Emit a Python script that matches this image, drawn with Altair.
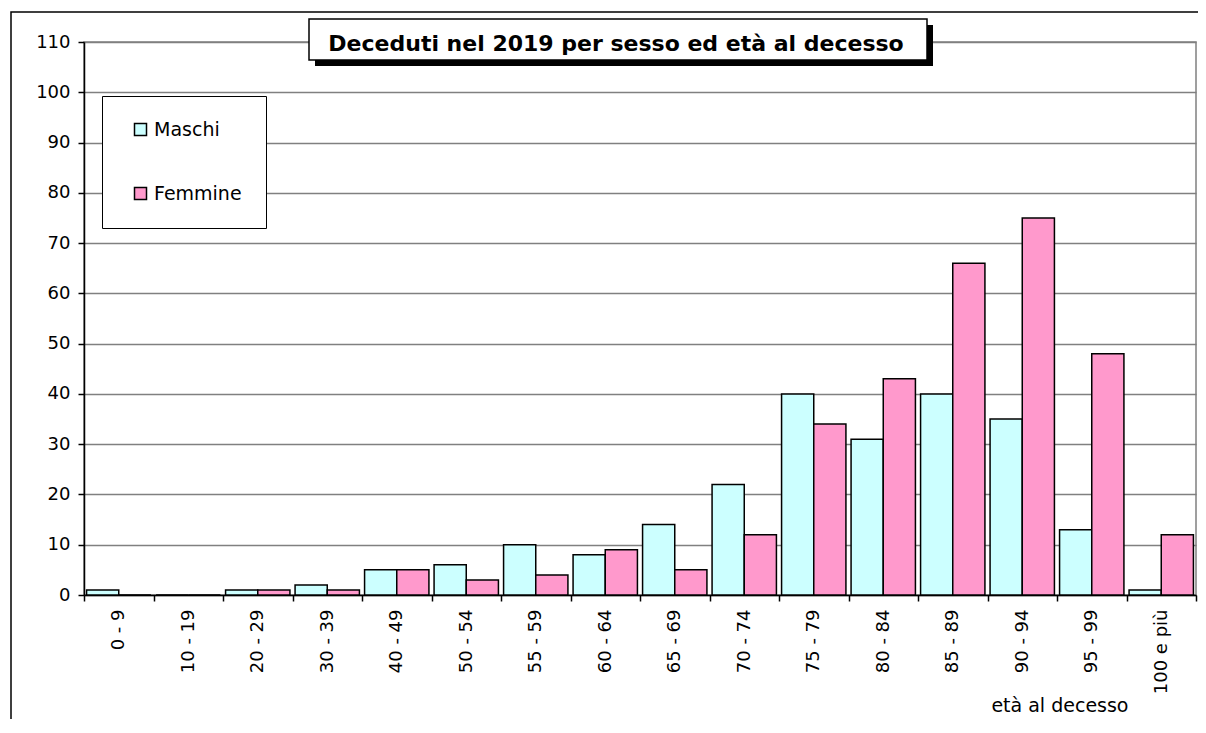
import altair as alt
import pandas as pd

categories = ["0 - 9", "10 - 19", "20 - 29", "30 - 39", "40 - 49", "50 - 54",
              "55 - 59", "60 - 64", "65 - 69", "70 - 74", "75 - 79", "80 - 84",
              "85 - 89", "90 - 94", "95 - 99", "100 e più"]
maschi = [1, 0, 1, 2, 5, 6, 10, 8, 14, 22, 40, 31, 40, 35, 13, 1]
femmine = [0, 0, 1, 1, 5, 3, 4, 9, 5, 12, 34, 43, 66, 75, 48, 12]
series = ["Maschi", "Femmine"]
colors = ["#CCFFFF", "#FF99CC"]
y_ticks = list(range(0, 111, 10))
title_text = "Deceduti nel 2019 per sesso ed età al decesso"
x_title = "età al decesso"

rows = []
for c, m, f in zip(categories, maschi, femmine):
    rows.append({"eta": c, "sesso": "Maschi", "valore": m})
    rows.append({"eta": c, "sesso": "Femmine", "valore": f})
df = pd.DataFrame(rows)

FONT = "DejaVu Sans"

bars = alt.Chart(df).mark_bar(stroke="black", strokeWidth=1.5, opacity=1).encode(
    x=alt.X("eta:N", sort=categories,
            scale=alt.Scale(paddingInner=0, paddingOuter=0),
            axis=alt.Axis(title=x_title, tickBand="extent", tickSize=6, tickWidth=1.5,
                          tickColor="black", domainColor="black", domainWidth=1.5,
                          labelAngle=270, labelFont=FONT, labelFontSize=18,
                          labelColor="black", labelPadding=8, labelOverlap=False,
                          titleFont=FONT, titleFontSize=19, titleFontWeight="normal",
                          titleColor="black", titleX=1044, titleY=110,
                          titleAlign="right", titleBaseline="middle")),
    xOffset=alt.XOffset("sesso:N", sort=series,
                        scale=alt.Scale(paddingInner=0, paddingOuter=0.08)),
    y=alt.Y("valore:Q", scale=alt.Scale(domain=[0, 110], nice=False),
            axis=alt.Axis(title=None, values=y_ticks, grid=True, gridColor="#808080",
                          gridWidth=1.5, domainColor="black", domainWidth=1.5,
                          tickColor="black", tickSize=6, tickWidth=1.5,
                          labelFont=FONT, labelFontSize=18, labelColor="black",
                          labelPadding=8)),
    color=alt.Color("sesso:N", sort=series,
                    scale=alt.Scale(domain=series, range=colors),
                    legend=alt.Legend(title=None, orient="none", legendX=18, legendY=54,
                                      fillColor="white", strokeColor="black",
                                      padding=24, symbolType="square", symbolSize=144,
                                      symbolOffset=5,
                                      symbolStrokeColor="black", symbolStrokeWidth=1.5,
                                      symbolOpacity=1, labelFont=FONT, labelFontSize=19,
                                      labelColor="black", labelOffset=4, rowPadding=44)),
)

one = alt.Data(values=[{"a": 1}])

outer = alt.Chart(one).mark_rect(fill=None, stroke="black", strokeWidth=1.5).encode(
    x=alt.value(-73), x2=alt.value(1200), y=alt.value(-30), y2=alt.value(800))

shadow = alt.Chart(one).mark_rect(fill="black", stroke=None).encode(
    x=alt.value(231), x2=alt.value(849), y=alt.value(-17), y2=alt.value(24))

box = alt.Chart(one).mark_rect(fill="white", stroke="black", strokeWidth=1.5).encode(
    x=alt.value(225), x2=alt.value(843), y=alt.value(-23), y2=alt.value(18))

title = alt.Chart(one).mark_text(font=FONT, fontSize=22, fontWeight="bold", color="black",
                                 align="center", baseline="alphabetic").encode(
    x=alt.value(532), y=alt.value(9), text=alt.value(title_text))

chart = alt.layer(bars, outer, shadow, box, title).properties(
    width=1112, height=553,
    autosize=alt.AutoSizeParams(type="none"),
    padding={"left": 76, "top": 34, "right": 2, "bottom": 124},
).configure_view(stroke="#808080", strokeWidth=1.5)

chart.save("out.html", embed_options={"renderer": "svg", "actions": False})
